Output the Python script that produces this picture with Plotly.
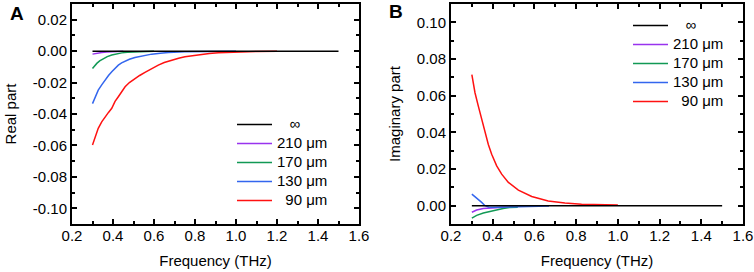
import plotly.graph_objects as go

# ---------------- data ----------------
series_names = ["\u00a0\u00a0\u00a0∞", "210 μm", "170 μm", "130 μm", "\u00a0\u00a090 μm"]
series_colors = ["#000000", "#9933ee", "#119955", "#3366ee", "#ff1111"]

# Panel A: real part
a_inf_x = [0.30, 1.50]
a_inf_y = [0.0, 0.0]
a_210_x = [0.30, 0.32, 0.345, 0.37, 0.394, 0.45]
a_210_y = [-0.0019, -0.0013, -0.0008, -0.0005, -0.0003, 0.0]
a_170_x = [0.30, 0.31, 0.321, 0.335, 0.353, 0.372, 0.394, 0.42, 0.443, 0.47, 0.507, 0.55, 0.60]
a_170_y = [-0.011, -0.0092, -0.0078, -0.0062, -0.0047, -0.0035, -0.0025, -0.0017, -0.0011, -0.0007, -0.0004, -0.0002, 0.0]
a_130_x = [0.30, 0.315, 0.328, 0.345, 0.361, 0.378, 0.394, 0.41, 0.426, 0.442, 0.459, 0.48, 0.507, 0.55, 0.589, 0.63, 0.67, 0.75, 0.85, 1.0]
a_130_y = [-0.0334, -0.029, -0.0248, -0.0215, -0.0184, -0.0155, -0.0131, -0.011, -0.0089, -0.0075, -0.0064, -0.0052, -0.004, -0.0028, -0.0019, -0.0013, -0.0008, -0.0004, -0.0002, 0.0]
a_90_x = [0.30, 0.315, 0.328, 0.345, 0.361, 0.378, 0.394, 0.41, 0.426, 0.442, 0.459, 0.48, 0.507, 0.53, 0.556, 0.59, 0.621, 0.65, 0.686, 0.72, 0.751, 0.79, 0.833, 0.87, 0.914, 0.96, 1.0, 1.1, 1.2]
a_90_y = [-0.0597, -0.054, -0.0491, -0.045, -0.0417, -0.039, -0.0364, -0.032, -0.029, -0.0255, -0.0227, -0.020, -0.0174, -0.0155, -0.0135, -0.011, -0.0089, -0.0072, -0.0057, -0.0045, -0.0036, -0.0028, -0.0021, -0.0015, -0.0011, -0.0008, -0.0006, -0.0002, 0.0]

# Panel B: imaginary part
b_inf_x = [0.30, 1.50]
b_inf_y = [0.0, 0.0]
b_210_x = [0.30, 0.323, 0.355, 0.40, 0.45, 0.50]
b_210_y = [-0.0036, -0.0024, -0.0015, -0.001, -0.0008, -0.0006]
b_170_x = [0.30, 0.323, 0.355, 0.40, 0.45, 0.48, 0.52]
b_170_y = [-0.0068, -0.0053, -0.004, -0.0027, -0.0015, -0.001, -0.0008]
b_130_x = [0.30, 0.315, 0.331, 0.347, 0.363, 0.38, 0.40, 0.45, 0.50, 0.55, 0.60, 0.67]
b_130_y = [0.0063, 0.005, 0.0036, 0.0018, 0.0, -0.0007, -0.0009, -0.0008, -0.0007, -0.0005, -0.0004, -0.0002]
b_90_x = [0.30, 0.315, 0.331, 0.347, 0.363, 0.379, 0.395, 0.419, 0.443, 0.475, 0.523, 0.587, 0.666, 0.746, 0.826, 0.938, 1.0]
b_90_y = [0.0715, 0.0616, 0.0543, 0.047, 0.0398, 0.0334, 0.028, 0.0217, 0.0172, 0.0127, 0.0085, 0.005, 0.0026, 0.0014, 0.0008, 0.0004, 0.0003]

x_tickvals = [0.2, 0.4, 0.6, 0.8, 1.0, 1.2, 1.4, 1.6]
x_ticktext = ["0.2", "0.4", "0.6", "0.8", "1.0", "1.2", "1.4", "1.6"]
a_tickvals = [0.02, 0.0, -0.02, -0.04, -0.06, -0.08, -0.10]
a_ticktext = ["0.02", "0.00", "-0.02", "-0.04", "-0.06", "-0.08", "-0.10"]
b_tickvals = [0.10, 0.08, 0.06, 0.04, 0.02, 0.0]
b_ticktext = ["0.10", "0.08", "0.06", "0.04", "0.02", "0.00"]

# ---------------- figure ----------------
FONT = "Liberation Sans, Arial, sans-serif"
W, H = 754, 272

fig = go.Figure()

panelA = [(a_inf_x, a_inf_y), (a_210_x, a_210_y), (a_170_x, a_170_y), (a_130_x, a_130_y), (a_90_x, a_90_y)]
panelB = [(b_inf_x, b_inf_y), (b_210_x, b_210_y), (b_170_x, b_170_y), (b_130_x, b_130_y), (b_90_x, b_90_y)]

def legend_label(s):
    return '<span style="font-size:15px">' + s + '</span>'

# coloured curves first, black reference last (on top); legend order via legendrank
order = [1, 2, 3, 4, 0]
for i in order:
    x, y = panelA[i]
    fig.add_trace(go.Scatter(x=x, y=y, mode="lines", name=legend_label(series_names[i]),
                             line=dict(color=series_colors[i], width=1.5),
                             xaxis="x", yaxis="y", legend="legend", legendrank=i + 1))
for i in order:
    x, y = panelB[i]
    fig.add_trace(go.Scatter(x=x, y=y, mode="lines", name=legend_label(series_names[i]),
                             line=dict(color=series_colors[i], width=1.5),
                             xaxis="x2", yaxis="y2", legend="legend2", legendrank=i + 1))

def xaxis(domain, anchor):
    return dict(domain=domain, anchor=anchor, range=[0.2, 1.6],
                tickmode="array", tickvals=x_tickvals, ticktext=x_ticktext,
                ticks="inside", ticklen=5, tickwidth=1.5, tickcolor="black",
                minor=dict(ticks="inside", ticklen=3, tickwidth=1.5, tickcolor="black",
                           tickmode="linear", tick0=0.1, dtick=0.2),
                showline=True, linewidth=2, linecolor="black", mirror="allticks",
                showgrid=False, zeroline=False, automargin=False,
                ticklabelstandoff=-3,
                tickfont=dict(family=FONT, size=15, color="black"),
                title=dict(text="Frequency (THz)", font=dict(family=FONT, size=15, color="black"),
                           standoff=12))

def yaxis(domain, anchor, rng, tv, tt, mtick0, title):
    return dict(domain=domain, anchor=anchor, range=rng,
                tickmode="array", tickvals=tv, ticktext=tt,
                ticks="inside", ticklen=5, tickwidth=1.5, tickcolor="black",
                minor=dict(ticks="inside", ticklen=3, tickwidth=1.5, tickcolor="black",
                           tickmode="linear", tick0=mtick0, dtick=0.02),
                showline=True, linewidth=2, linecolor="black", mirror="allticks",
                showgrid=False, zeroline=False, automargin=False,
                ticklabelstandoff=0,
                tickfont=dict(family=FONT, size=15, color="black"),
                title=dict(text=title, font=dict(family=FONT, size=15, color="black"),
                           standoff=13))

ydom = [1 - 224 / H, 1 - 4 / H]
fig.update_layout(
    width=W, height=H,
    margin=dict(l=0, r=0, t=0, b=0),
    paper_bgcolor="white", plot_bgcolor="white",
    font=dict(family=FONT, size=15, color="black"),
    xaxis=xaxis([72 / W, 359 / W], "y"),
    yaxis=yaxis(ydom, "x", [-0.11, 0.03], a_tickvals, a_ticktext, 0.01, "Real part"),
    xaxis2=xaxis([451 / W, 743 / W], "y2"),
    yaxis2=yaxis(ydom, "x2", [-0.01, 0.11], b_tickvals, b_ticktext, 0.01, "Imaginary part"),
    legend=dict(x=232 / W, y=1 - 110 / H, xanchor="left", yanchor="top",
                bgcolor="rgba(0,0,0,0)", borderwidth=0, itemwidth=35,
                tracegroupgap=0, font=dict(family=FONT, size=12, color="black")),
    legend2=dict(x=628 / W, y=1 - 11 / H, xanchor="left", yanchor="top",
                 bgcolor="rgba(0,0,0,0)", borderwidth=0, itemwidth=35,
                 tracegroupgap=0, font=dict(family=FONT, size=12, color="black")),
    annotations=[
        dict(text="<b>A</b>", x=17 / W, y=1 - 13 / H, xref="paper", yref="paper",
             showarrow=False, xanchor="center", yanchor="middle",
             font=dict(family=FONT, size=19, color="black")),
        dict(text="<b>B</b>", x=396 / W, y=1 - 12 / H, xref="paper", yref="paper",
             showarrow=False, xanchor="center", yanchor="middle",
             font=dict(family=FONT, size=19, color="black")),
    ],
)

fig.write_html("out.html",
               config={"displayModeBar": False},
               post_script="document.documentElement.style.margin='0';"
                           "document.body.style.margin='0';"
                           "document.body.style.overflow='hidden';")
